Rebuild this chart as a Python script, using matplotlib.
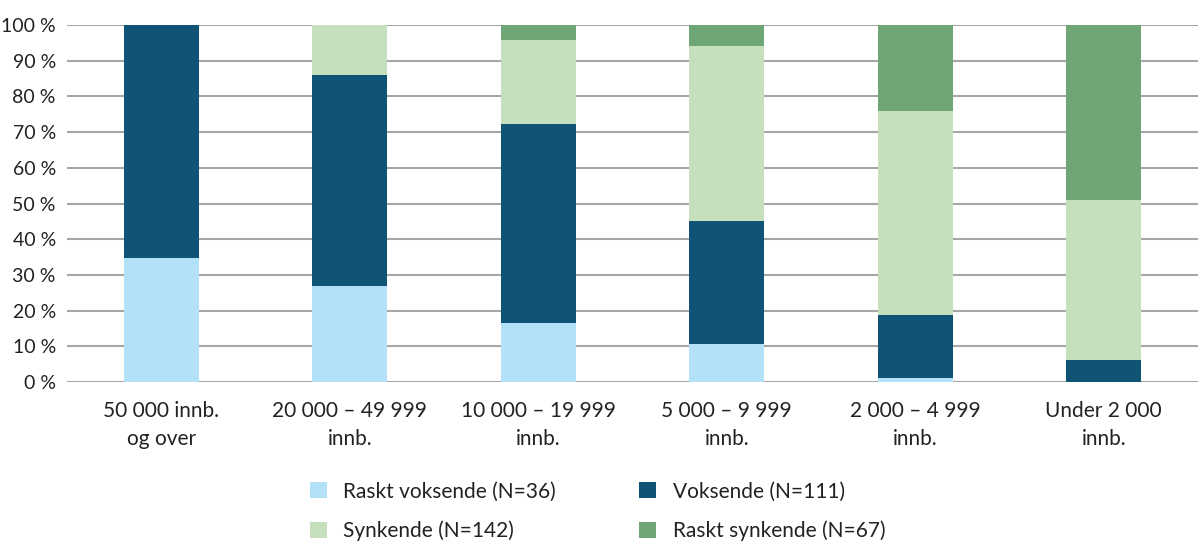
import matplotlib.pyplot as plt
import numpy as np

# categories and shares (percent)
categories = ["50 000 innb.\nog over", "20 000 – 49 999\ninnb.", "10 000 – 19 999\ninnb.",
              "5 000 – 9 999\ninnb.", "2 000 – 4 999\ninnb.", "Under 2 000\ninnb."]
raskt_voksende = [34.8, 26.9, 16.4, 10.6, 1.0, 0.0]
voksende = [65.2, 59.2, 55.8, 34.5, 17.7, 6.2]
synkende = [0.0, 13.9, 23.5, 49.1, 57.2, 44.7]
raskt_synkende = [0.0, 0.0, 4.3, 5.8, 24.1, 49.1]

series = ["Raskt voksende (N=36)", "Voksende (N=111)", "Synkende (N=142)", "Raskt synkende (N=67)"]
colors = ["#b3e1f7", "#0f5474", "#c6dfbc", "#6ea775"]

plt.rcParams['font.family'] = ['Lato', 'DejaVu Sans']

fig = plt.figure(figsize=(12, 5.58), dpi=100)
ax = fig.add_axes([0.0558, 0.3154, 0.9425, 0.6396])

x = np.arange(len(categories))
bottom = np.zeros(len(categories))
bars = []
for vals, col, name in zip([raskt_voksende, voksende, synkende, raskt_synkende], colors, series):
    b = ax.bar(x, vals, width=0.4, bottom=bottom, color=col, label=name, zorder=3)
    bars.append(b)
    bottom += np.array(vals)

ax.set_xlim(-0.5, 5.5)
ax.set_ylim(0, 100)
ax.set_yticks(range(0, 101, 10))
ax.set_yticklabels([f"{v} %" for v in range(0, 101, 10)])
ax.set_xticks(x)
ax.set_xticklabels(categories, linespacing=1.45)
ax.tick_params(axis='both', length=0, colors='#222222')
ax.tick_params(axis='x', labelsize=15, pad=14)
ax.tick_params(axis='y', labelsize=14, pad=8)
ax.yaxis.grid(True, color='#a6a6a6', linewidth=1.5, zorder=0)
for s in ax.spines.values():
    s.set_visible(False)

handles = [bars[0], bars[2], bars[1], bars[3]]
labels = [series[0], series[2], series[1], series[3]]
fig.legend(handles, labels, ncol=2, loc='center', bbox_to_anchor=(0.498, 0.084),
           frameon=False, fontsize=15, handlelength=0.8, handleheight=0.8,
           columnspacing=4, labelspacing=0.9, handletextpad=0.8, labelcolor='#222222')

fig.savefig("out.png", dpi=100)
